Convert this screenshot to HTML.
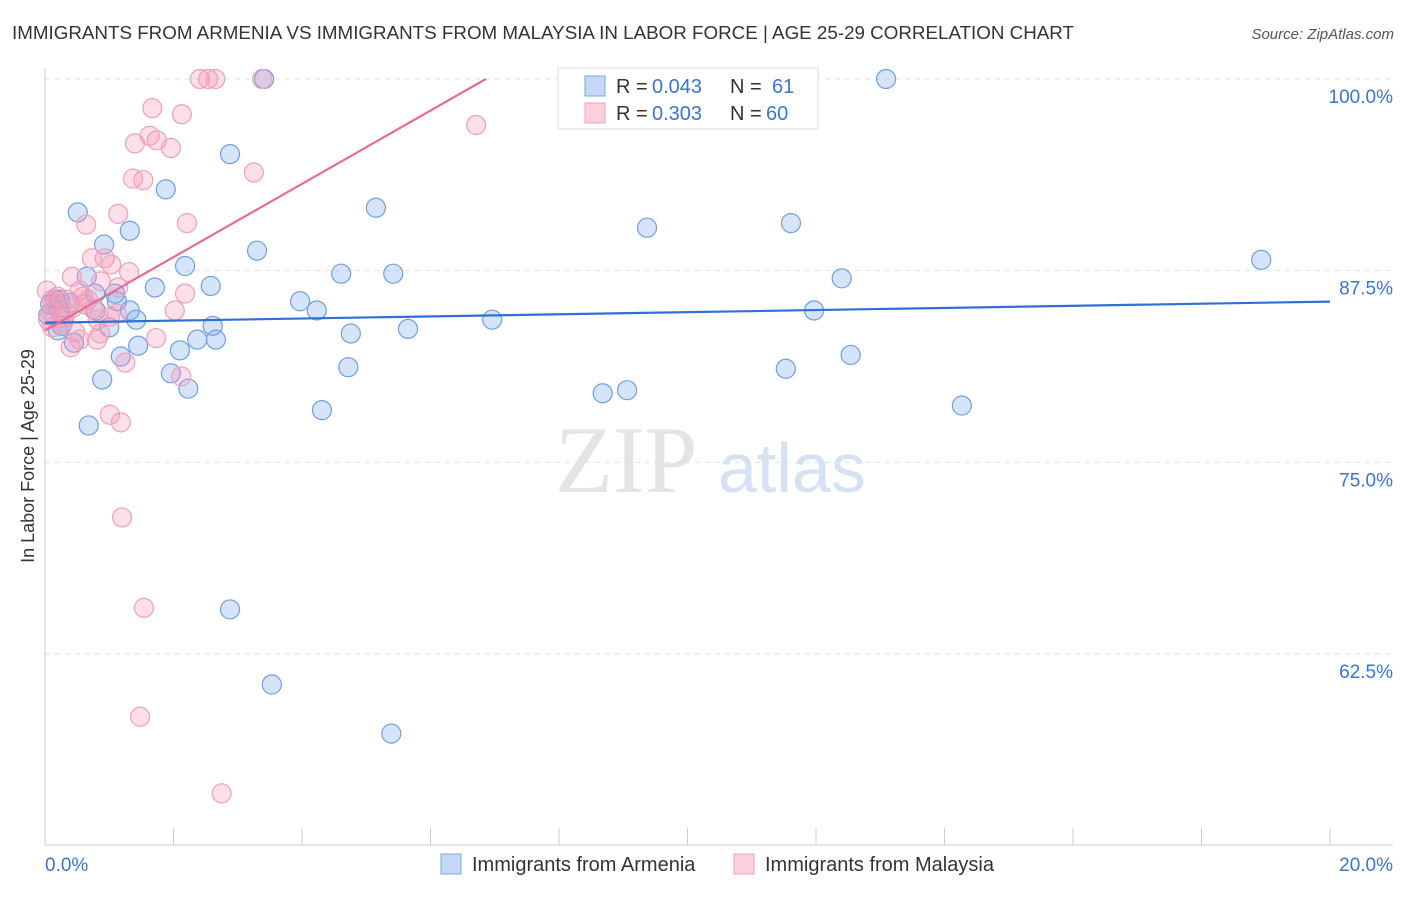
<!DOCTYPE html>
<html><head><meta charset="utf-8"><style>
body{margin:0;background:#fff;font-family:"Liberation Sans",sans-serif}
svg text{font-family:"Liberation Sans",sans-serif}
</style></head><body>
<svg width="1406" height="892" id="c">
<text x="12" y="39" font-size="18.8" fill="#333">IMMIGRANTS FROM ARMENIA VS IMMIGRANTS FROM MALAYSIA IN LABOR FORCE | AGE 25-29 CORRELATION CHART</text>
<text x="1394" y="39" font-size="15" fill="#555" text-anchor="end" font-style="italic">Source: ZipAtlas.com</text>
<text x="34" y="456" font-size="18" fill="#333" text-anchor="middle" transform="rotate(-90 34 456)">In Labor Force | Age 25-29</text>
<text x="555" y="492" font-size="95" fill="#e4e4e4" style="font-family:'Liberation Serif',serif">ZIP</text>
<text x="718" y="492" font-size="70" fill="#d4e2f4">atlas</text>
<g id="grid"></g><g id="ax"></g><g id="pts"></g><g id="lines"></g>
<g>
<rect x="558" y="68" width="260" height="61" fill="#fff" stroke="#ddd"/>
<rect x="585" y="76" width="20" height="20" fill="#c5d8f5" stroke="#7aa6e6"/>
<text x="616" y="93" font-size="20" fill="#333">R = </text><text x="652" y="93" font-size="20" fill="#3a75d0">0.043</text>
<text x="730" y="93" font-size="20" fill="#333">N = </text><text x="772" y="93" font-size="20" fill="#3a75d0">61</text>
<rect x="585" y="103" width="20" height="20" fill="#fbd0dd" stroke="#f0a0bb"/>
<text x="616" y="120" font-size="20" fill="#333">R = </text><text x="652" y="120" font-size="20" fill="#3a75d0">0.303</text>
<text x="730" y="120" font-size="20" fill="#333">N = </text><text x="766" y="120" font-size="20" fill="#3a75d0">60</text>
</g>
<g>
<rect x="441" y="854" width="20" height="20" fill="#c5d8f5" stroke="#7aa6e6"/>
<text x="472" y="871" font-size="20" fill="#333">Immigrants from Armenia</text>
<rect x="734" y="854" width="20" height="20" fill="#fbd0dd" stroke="#f0a0bb"/>
<text x="765" y="871" font-size="20" fill="#333">Immigrants from Malaysia</text>
</g>
</svg>
<script>
const yTicks=[100,87.5,75,62.5];
const yTickLabels=["100.0%","87.5%","75.0%","62.5%"];
const xTickLabels=["0.0%","20.0%"];
const blueX=[13.09,3.41,2.88,1.88,5.15,0.51,9.37,11.61,1.32,0.92,3.30,18.93,2.18,0.65,4.61,5.42,12.40,1.71,2.58,0.78,1.09,0.23,3.97,0.39,1.12,1.32,4.23,11.97,1.42,6.96,2.61,1.00,0.26,4.76,5.65,2.37,2.66,0.45,1.45,2.10,1.18,12.54,4.72,1.96,11.53,0.89,2.23,8.68,9.06,4.31,14.27,0.68,2.88,3.53,5.39,0.16,0.08,0.23,0.05,0.20,0.79];
const blueY=[100,100,95.1,92.8,91.6,91.3,90.3,90.6,90.1,89.2,88.8,88.2,87.8,87.1,87.3,87.3,87.0,86.4,86.5,86.0,86.0,85.6,85.5,85.4,85.5,84.9,84.9,84.9,84.3,84.3,83.9,83.8,83.9,83.4,83.7,83.0,83.0,82.8,82.6,82.3,81.9,82.0,81.2,80.8,81.1,80.4,79.8,79.5,79.7,78.4,78.7,77.4,65.4,60.5,57.3,85.6,85.3,84.9,84.6,83.6,84.9];
const pinkX=[2.41,2.54,2.65,3.38,1.67,2.13,6.71,1.63,1.74,1.40,1.96,3.25,1.37,1.53,1.14,0.64,2.21,0.93,0.73,1.03,1.31,0.42,0.87,2.18,0.59,2.02,0.75,1.01,0.34,0.20,0.16,0.08,0.11,0.30,0.47,0.81,1.73,0.40,1.25,2.12,1.01,1.18,1.20,1.54,1.48,2.75,0.54,1.12,0.82,0.28,0.62,0.44,0.03,0.86,0.05,0.33,1.14,0.67,0.11,0.54];
const pinkY=[100,100,100,100,98.1,97.7,97.0,96.3,96.0,95.8,95.5,93.9,93.5,93.4,91.2,90.5,90.6,88.3,88.3,87.9,87.4,87.1,86.8,86.0,85.8,84.9,85.0,84.5,85.6,85.8,85.3,84.8,85.6,84.4,83.5,83.0,83.1,82.5,81.5,80.6,78.1,77.6,71.4,65.5,58.4,53.4,86.2,84.7,84.3,84.1,85.3,85.1,86.2,83.4,84.3,84.8,86.4,85.6,83.8,83.0];
const blueTrend=[84.1,0.069];
const pinkTrend=[83.6,2.39];
const NS="http://www.w3.org/2000/svg";
const X=v=>45+v*64.25, Y=v=>79+(100-v)*15.33;
function mk(p,t,a){const e=document.createElementNS(NS,t);for(const k in a)e.setAttribute(k,a[k]);document.getElementById(p).appendChild(e);return e;}
yTicks.forEach((t,i)=>{
 const g=mk('grid','line',{x1:45,x2:1393,y1:Y(t),y2:Y(t),stroke:'#e0e0e0','stroke-dasharray':'5,5'});
 
 
 const l=mk('ax','text',{x:1393,y:Y(t)+24,'font-size':19,fill:'#3a75d0','text-anchor':'end'});
 l.textContent=yTickLabels[i];
 
 
});
mk('ax','line',{x1:45,x2:45,y1:68,y2:845,stroke:'#ccc'});
mk('ax','line',{x1:45,x2:1393,y1:845,y2:845,stroke:'#ccc'});
for(let i=1;i<=10;i++){mk('ax','line',{x1:X(i*2),x2:X(i*2),y1:828,y2:845,stroke:'#ccc'});}
[[0,45,'start'],[20,1393,'end']].forEach((d,i)=>{const l=mk('ax','text',{x:d[1],y:871,'font-size':19,fill:'#3a75d0','text-anchor':d[2]});l.textContent=xTickLabels[i];
 
 });
blueX.forEach((x,i)=>{const c=mk('pts','circle',{cx:X(x),cy:Y(blueY[i]),r:9.5,fill:'rgba(120,165,235,0.3)',stroke:'#6f9fe3','stroke-width':1.2});
 
 });
pinkX.forEach((x,i)=>{const c=mk('pts','circle',{cx:X(x),cy:Y(pinkY[i]),r:9.5,fill:'rgba(245,150,180,0.3)',stroke:'#f0a0bb','stroke-width':1.2});
 
 });
const b=mk('lines','line',{x1:X(0),y1:Y(blueTrend[0]),x2:X(20),y2:Y(blueTrend[0]+20*blueTrend[1]),stroke:'#2f6fd6','stroke-width':2.2});


const xe=(100-pinkTrend[0])/pinkTrend[1];
const p=mk('lines','line',{x1:X(0),y1:Y(pinkTrend[0]),x2:X(xe),y2:Y(100),stroke:'#e86a98','stroke-width':2.2});


</script>
</body></html>
